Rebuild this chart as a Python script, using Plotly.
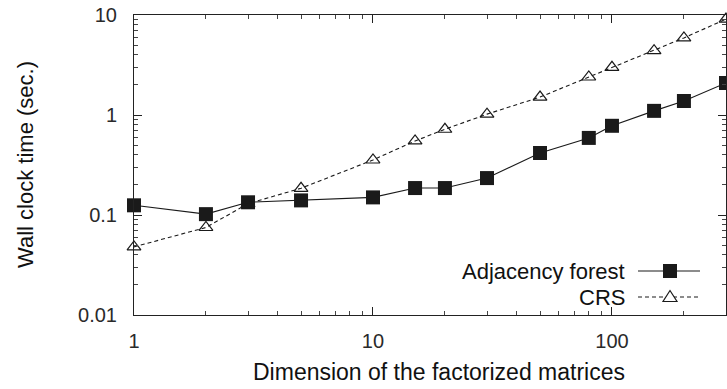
import numpy as np
import plotly.graph_objects as go

dims = [1, 2, 3, 5, 10, 15, 20, 30, 50, 80, 100, 150, 200, 300]
adjacency_forest = [0.125, 0.102, 0.134, 0.14, 0.15, 0.186, 0.186, 0.234, 0.417, 0.59, 0.78, 1.10, 1.38, 2.09]
crs = [0.048, 0.075, 0.13, 0.185, 0.355, 0.55, 0.72, 1.02, 1.51, 2.4, 3.0, 4.4, 5.9, 9.1]
series_names = ["Adjacency forest", "CRS"]

x_tickvals = [1, 10, 100]
x_ticktext = ["1", "10", "100"]
x_minor = [2, 3, 4, 5, 6, 7, 8, 9, 20, 30, 40, 50, 60, 70, 80, 90, 200, 300]
y_tickvals = [0.01, 0.1, 1, 10]
y_ticktext = ["0.01", "0.1", "1", "10"]
y_minor = [0.02, 0.03, 0.04, 0.05, 0.06, 0.07, 0.08, 0.09,
           0.2, 0.3, 0.4, 0.5, 0.6, 0.7, 0.8, 0.9,
           2, 3, 4, 5, 6, 7, 8, 9]

FONT = "Liberation Sans, Arial, Helvetica, sans-serif"
INK = "#1a1a1a"
DASH = "4px,3px"

# plot area in pixels (for placing decorations)
L, R, T, B = 134, 726, 15, 315
def px(x):
    return (x - L) / (R - L)
def py(y):
    return (B - y) / (B - T)

fig = go.Figure()
fig.add_trace(go.Scatter(
    x=dims, y=adjacency_forest, name=series_names[0], mode="lines+markers",
    line=dict(color=INK, width=1.1),
    marker=dict(symbol="square", size=14, color=INK, line=dict(width=0)),
    cliponaxis=False, showlegend=False,
))
fig.add_trace(go.Scatter(
    x=dims, y=crs, name=series_names[1], mode="lines+markers",
    line=dict(color=INK, width=1.1, dash=DASH),
    marker=dict(symbol="triangle-up-open", size=12, color=INK, line=dict(width=1.2)),
    cliponaxis=False, showlegend=False,
))

fig.update_layout(
    width=727, height=389,
    margin=dict(l=L, r=727 - R, t=T, b=389 - B),
    paper_bgcolor="white", plot_bgcolor="white",
    font=dict(family=FONT, size=20, color="#222"),
    showlegend=False,
    xaxis=dict(type="log", range=[0, np.log10(300)],
               tickvals=x_tickvals, ticktext=x_ticktext,
               ticks="inside", ticklen=8, tickcolor="#222",
               showline=True, linecolor="#222", linewidth=1, mirror="ticks",
               showgrid=False, zeroline=False,
               minor=dict(tickmode="array", tickvals=x_minor, ticks="inside",
                          ticklen=4, tickcolor="#444", showgrid=False),
               tickfont=dict(size=20, color="#2a2a2a"), ticklabelstandoff=8),
    yaxis=dict(type="log", range=[-2, 1],
               tickvals=y_tickvals, ticktext=y_ticktext,
               ticks="inside", ticklen=8, tickcolor="#222",
               showline=True, linecolor="#222", linewidth=1, mirror="ticks",
               showgrid=False, zeroline=False,
               minor=dict(tickmode="array", tickvals=y_minor, ticks="inside",
                          ticklen=4, tickcolor="#444", showgrid=False),
               tickfont=dict(size=20, color="#2a2a2a"), ticklabelstandoff=12),
)

# axis titles
fig.add_annotation(text="Dimension of the factorized matrices", xref="paper", yref="paper",
                   x=px(439), y=py(372), xanchor="center", yanchor="middle",
                   showarrow=False, font=dict(size=23, color="#111"))
fig.add_annotation(text="Wall clock time (sec.)", xref="paper", yref="paper",
                   x=px(25), y=py(165), xanchor="center", yanchor="middle", textangle=-90,
                   showarrow=False, font=dict(size=22, color="#111"))

# legend (text left of key, as in the reference)
rows = [271, 297]
for name, ry in zip(series_names, rows):
    fig.add_annotation(text=name, xref="paper", yref="paper", x=px(626), y=py(ry),
                       xanchor="right", yanchor="middle", showarrow=False, borderpad=0,
                       font=dict(size=22, color="#111"))
fig.add_shape(type="line", xref="paper", yref="paper", x0=px(638), x1=px(700),
              y0=py(rows[0]), y1=py(rows[0]), line=dict(color=INK, width=1.1))
fig.add_shape(type="line", xref="paper", yref="paper", x0=px(638), x1=px(700),
              y0=py(rows[1]), y1=py(rows[1]), line=dict(color=INK, width=1.1, dash=DASH))
fig.add_shape(type="rect", xref="paper", yref="paper", x0=px(663), x1=px(677),
              y0=py(rows[0] + 7), y1=py(rows[0] - 7), line=dict(width=0), fillcolor=INK)
tri = "M {a},{b} L {c},{b} L {d},{e} Z".format(
    a=px(663), c=px(677), b=py(rows[1] + 4.5), d=px(670), e=py(rows[1] - 6.5))
fig.add_shape(type="path", xref="paper", yref="paper", path=tri,
              line=dict(color=INK, width=1.2), fillcolor="white")

fig.write_html("out.html")
